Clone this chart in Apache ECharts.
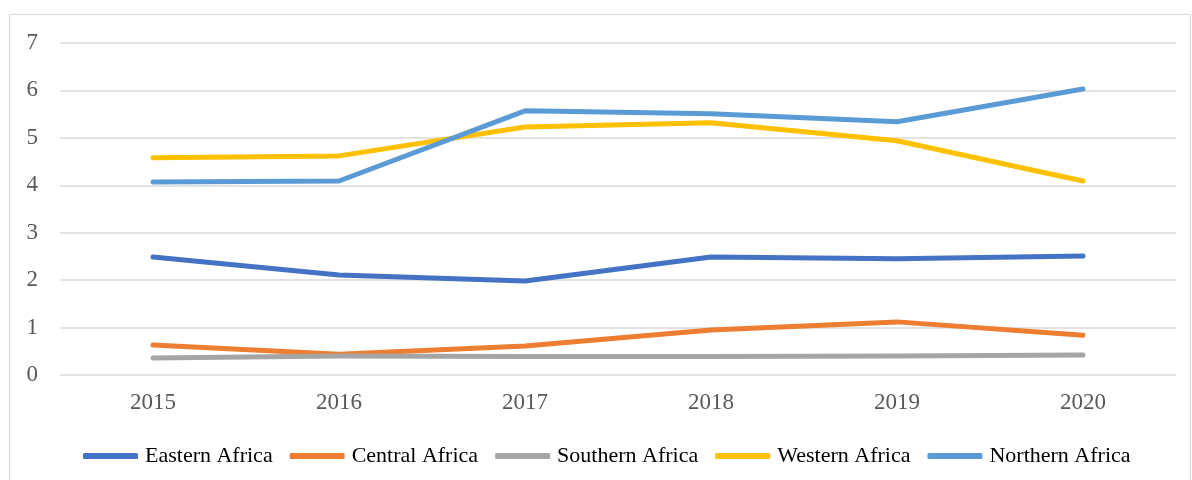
<!DOCTYPE html>
<html>
<head>
<meta charset="utf-8">
<script src="https://cdn.jsdelivr.net/npm/echarts@6/dist/echarts.min.js"></script>
<style>
  html, body { margin: 0; padding: 0; background: #fff; }
  #frame { position: absolute; left: 9px; top: 14px; width: 1182px; height: 480px; border: 1px solid #d9d9d9; box-sizing: border-box; }
  #chart { position: absolute; left: 0; top: 0; width: 1192px; height: 480px; }
</style>
</head>
<body>
<div id="frame"></div>
<div id="chart"></div>
<script>
// years on the x axis
var years = ['2015', '2016', '2017', '2018', '2019', '2020'];

// values
var eastern = [2.49, 2.11, 1.98, 2.49, 2.45, 2.51];
var central = [0.63, 0.44, 0.61, 0.95, 1.12, 0.84];
var southern = [0.36, 0.40, 0.39, 0.39, 0.40, 0.42];
var western = [4.58, 4.62, 5.23, 5.32, 4.94, 4.09];
var northern = [4.07, 4.09, 5.57, 5.51, 5.34, 6.03];

var names = ['Eastern Africa', 'Central Africa', 'Southern Africa', 'Western Africa', 'Northern Africa'];
var colors = ['#4472C4', '#ED7D31', '#A5A5A5', '#FFC000', '#5B9BD5'];

var font = '"Liberation Serif", "Times New Roman", serif';

function line(name, data, color) {
    return {
        name: name,
        type: 'line',
        data: data,
        symbol: 'none',
        smooth: false,
        lineStyle: { width: 5, color: color, cap: 'round', join: 'round' },
        itemStyle: { color: color },
        emphasis: { disabled: true }
    };
}

var chart = echarts.init(document.getElementById('chart'), null, { renderer: 'canvas' });
chart.setOption({
    animation: false,
    backgroundColor: 'transparent',
    grid: { left: 60, right: 16, top: 43, bottom: 105, containLabel: false },
    legend: {
        top: 440,
        left: 78,
        icon: 'roundRect',
        itemWidth: 55,
        itemHeight: 6,
        itemGap: 17,
        data: names,
        textStyle: { fontFamily: font, fontSize: 22, color: '#000', padding: [0, 0, 0, 2] }
    },
    xAxis: {
        type: 'category',
        data: years,
        boundaryGap: true,
        axisLine: { show: false },
        axisTick: { show: false },
        axisLabel: { fontFamily: font, fontSize: 23, color: '#595959', margin: 16 }
    },
    yAxis: {
        type: 'value',
        min: 0,
        max: 7,
        interval: 1,
        axisLine: { show: false },
        axisTick: { show: false },
        axisLabel: { fontFamily: font, fontSize: 23, color: '#595959', margin: 22 },
        splitLine: { lineStyle: { color: '#d9d9d9', width: 1.5 } }
    },
    series: [
        line(names[0], eastern, colors[0]),
        line(names[1], central, colors[1]),
        line(names[2], southern, colors[2]),
        line(names[3], western, colors[3]),
        line(names[4], northern, colors[4])
    ]
});
</script>
</body>
</html>
